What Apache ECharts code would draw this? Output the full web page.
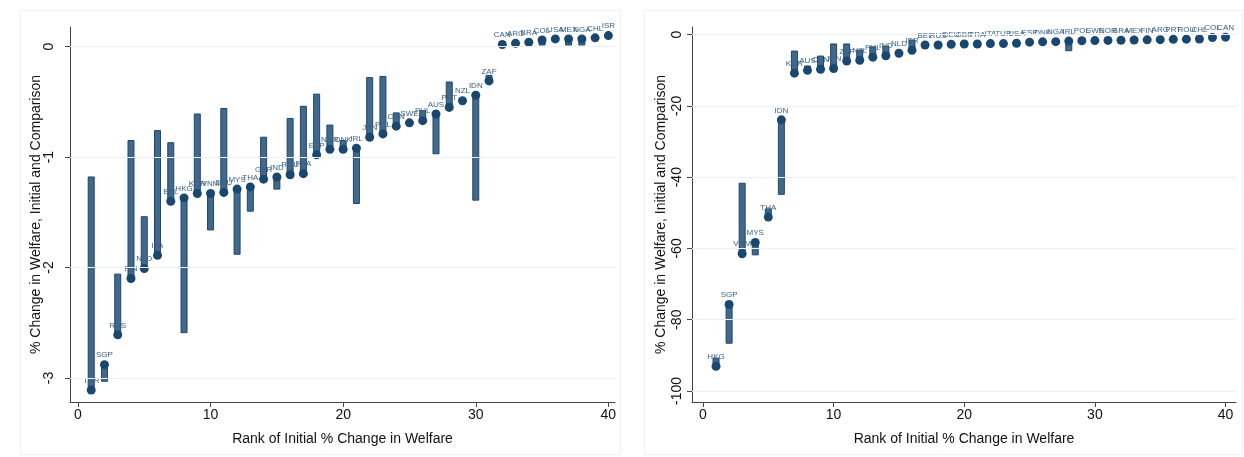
<!DOCTYPE html>
<html>
<head>
<meta charset="utf-8">
<script src="https://cdn.jsdelivr.net/npm/echarts@6/dist/echarts.min.js"></script>
<style>
html,body{margin:0;padding:0;background:#fff;}
#chart{width:1244px;height:457px;}
</style>
</head>
<body>
<div id="chart"></div>
<script>
// ---- Data ----
const leftCountries = ["TUR","SGP","RUS","FIN","NLD","ITA","BEL","HKG","KOR","VNM","DEU","MYS","THA","GBR","IND","ROU","FRA","ESP","NOR","DNK","IRL","JPN","POL","CHN","SWE","PHL","AUS","PRT","NZL","IDN","ZAF","CAN","ARG","BRA","COL","USA","MEX","NGA","CHL","ISR"];
const leftInitial = [-3.11,-2.88,-2.61,-2.10,-2.01,-1.89,-1.40,-1.37,-1.33,-1.33,-1.32,-1.29,-1.27,-1.20,-1.18,-1.16,-1.15,-0.98,-0.93,-0.93,-0.92,-0.82,-0.79,-0.72,-0.69,-0.67,-0.61,-0.55,-0.49,-0.44,-0.31,0.02,0.03,0.04,0.06,0.07,0.07,0.07,0.08,0.10];
const leftComparison = [-1.18,-3.03,-2.06,-0.85,-1.54,-0.76,-0.87,-2.59,-0.61,-1.66,-0.56,-1.88,-1.49,-0.82,-1.29,-0.65,-0.54,-0.43,-0.71,-0.85,-1.42,-0.28,-0.27,-0.60,null,-0.58,-0.97,-0.32,null,-1.39,-0.26,null,null,null,0.015,null,0.015,0.015,null,null];

const rightCountries = ["HKG","SGP","VNM","MYS","THA","IDN","KOR","AUS","CHN","JPN","ZAF","NZL","PHL","IND","NLD","ISR","BEL","RUS","DEU","GBR","FRA","ITA","TUR","USA","ESP","DNK","NGA","IRL","POL","SWE","NOR","BRA","MEX","FIN","ARG","PRT","ROU","CHL","COL","CAN"];
const rightInitial = [-93.1,-75.7,-61.5,-58.3,-51.2,-23.9,-10.8,-10.0,-9.7,-9.5,-7.4,-7.2,-6.3,-5.9,-5.2,-4.4,-2.9,-2.9,-2.7,-2.6,-2.6,-2.5,-2.5,-2.4,-2.1,-2.0,-1.95,-1.8,-1.7,-1.65,-1.6,-1.55,-1.5,-1.45,-1.4,-1.3,-1.25,-1.2,-0.8,-0.7];
const rightComparison = [-90.8,-86.6,-41.7,-61.8,-48.9,-44.8,-4.6,-8.8,-6.0,-2.6,-2.6,-4.3,-3.4,-3.2,null,-1.5,null,null,null,null,null,null,null,null,null,null,null,-4.5,null,null,null,null,null,null,null,null,null,null,null,null];

const xTicks = [0,10,20,30,40];
const leftYTicks = [0,-1,-2,-3];
const rightYTicks = [0,-20,-40,-60,-80,-100];

// ---- Styling ----
const NAVY = '#1a476f';
const BAR_FILL = 'rgba(26,71,111,0.82)';
const FONT = 'Liberation Sans, Arial, Helvetica, sans-serif';

function points(countries, initial){
  return countries.map((c,i)=>({name:c, value:[i+1, initial[i]]}));
}
function bars(initial, comparison){
  const out=[];
  comparison.forEach((v,i)=>{ if(v!==null) out.push([i+1, initial[i], v]); });
  return out;
}
function renderBar(params, api){
  const x=api.value(0), a=api.value(1), b=api.value(2);
  const p0=api.coord([x,a]), p1=api.coord([x,b]);
  const w=6;
  return {type:'rect', shape:{x:p0[0]-w/2, y:Math.min(p0[1],p1[1]), width:w, height:Math.max(1,Math.abs(p1[1]-p0[1]))},
    style:{fill:BAR_FILL, stroke:NAVY, lineWidth:1}};
}
function xAxis(gridIndex, min, max){
  return {type:'value', gridIndex, min, max,
    name:'Rank of Initial % Change in Welfare', nameLocation:'middle', nameGap:30, nameMoveOverlap:false,
    nameTextStyle:{fontFamily:FONT, fontSize:14, color:'#111'},
    axisLine:{show:true, onZero:false, lineStyle:{color:'#444', width:1}},
    axisTick:{show:true, length:5, lineStyle:{color:'#444'}, customValues:xTicks},
    axisLabel:{fontFamily:FONT, fontSize:14, color:'#111', margin:6, customValues:xTicks},
    splitLine:{show:false}};
}
function yAxis(gridIndex, min, max, ticks, labelMargin, nameGap){
  return {type:'value', gridIndex, min, max,
    name:'% Change in Welfare, Initial and Comparison', nameLocation:'middle', nameGap:nameGap, nameMoveOverlap:false,
    nameTextStyle:{fontFamily:FONT, fontSize:14, color:'#111'},
    axisLine:{show:true, onZero:false, lineStyle:{color:'#444', width:1}},
    axisTick:{show:true, length:5, lineStyle:{color:'#444'}, customValues:ticks},
    axisLabel:{fontFamily:FONT, fontSize:14, color:'#111', rotate:90, margin:labelMargin, customValues:ticks},
    splitLine:{show:true, lineStyle:{color:'#eaf0f3', width:1}}};
}
function scatter(idx, countries, initial){
  return {type:'scatter', xAxisIndex:idx, yAxisIndex:idx, z:3,
    data:points(countries, initial), symbolSize:9,
    itemStyle:{color:NAVY, opacity:1},
    label:{show:true, position:'top', distance:1, formatter:'{b}', fontFamily:FONT, fontSize:8, color:'#3b6185'},
    emphasis:{disabled:true}};
}
function gridLines(idx, ticks){
  return {type:'line', xAxisIndex:idx, yAxisIndex:idx, data:[], silent:true,
    markLine:{silent:true, symbol:'none', label:{show:false}, lineStyle:{color:'#eaf0f3', type:'solid', width:1},
      data:ticks.map(t=>({yAxis:t}))}};
}

const chart = echarts.init(document.getElementById('chart'), null, {renderer:'canvas'});
chart.setOption({
  backgroundColor:'#ffffff',
  animation:false,
  graphic:[
    {type:'rect', shape:{x:20.5,y:10.5,width:600,height:444}, style:{fill:'none', stroke:'#eef2f4', lineWidth:1}, z:-1},
    {type:'rect', shape:{x:644.5,y:10.5,width:598,height:444}, style:{fill:'none', stroke:'#eef2f4', lineWidth:1}, z:-1}
  ],
  grid:[
    {left:70, top:27, width:545, height:375},
    {left:692, top:27, width:544, height:375}
  ],
  xAxis:[xAxis(0,-0.6,40.5), xAxis(1,-0.84,40.8)],
  yAxis:[yAxis(0,-3.218,0.178,leftYTicks,14,27), yAxis(1,-103.1,2.16,rightYTicks,8,24)],
  series:[
    gridLines(0, leftYTicks),
    gridLines(1, rightYTicks),
    {type:'custom', xAxisIndex:0, yAxisIndex:0, z:2, renderItem:renderBar, data:bars(leftInitial,leftComparison), encode:{x:0,y:[1,2]}},
    {type:'custom', xAxisIndex:1, yAxisIndex:1, z:2, renderItem:renderBar, data:bars(rightInitial,rightComparison), encode:{x:0,y:[1,2]}},
    scatter(0, leftCountries, leftInitial),
    scatter(1, rightCountries, rightInitial)
  ]
});
</script>
</body>
</html>
